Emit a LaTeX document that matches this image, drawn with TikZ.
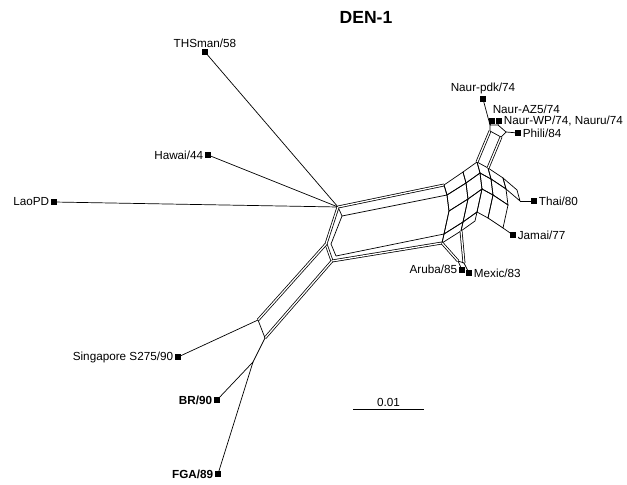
\documentclass[tikz,border=0pt]{standalone}
\usepackage{fontspec}
\setmainfont{Liberation Sans}
\usetikzlibrary{calc}

\begin{document}
\begin{tikzpicture}[x=0.03cm,y=-0.03cm,
    edge/.style={line width=0.6pt},
    band/.style={double, double distance=1.1pt, line width=0.65pt},
    taxon/.style={fill, rectangle, minimum size=4.5pt, inner sep=0pt},
    lab/.style={font=\fontsize{10}{12}\selectfont, inner sep=1.5pt},
    boldlab/.style={lab, font=\bfseries\fontsize{10}{12}\selectfont}]
    \useasboundingbox (0,0) rectangle (627,485);

    \node[font=\bfseries\fontsize{15}{18}\selectfont] (title) at (366,17) {DEN-1};

    % taxa
    \node[taxon, label={[lab]above:THSman/58}] (thsman) at (205,52) {};
    \node[taxon, label={[lab]left:Hawai/44}] (hawai) at (208,155) {};
    \node[taxon, label={[lab]left:LaoPD}] (laopd) at (54,202) {};
    \node[taxon, label={[lab]left:Singapore S275/90}] (singapore) at (178,357) {};
    \node[taxon, label={[boldlab]left:BR/90}] (br) at (217,400) {};
    \node[taxon, label={[boldlab]left:FGA/89}] (fga) at (218,474) {};
    \node[taxon, label={[lab]above:Naur-pdk/74}] (pdk) at (483,99) {};
    \node[taxon, label={[lab, xshift=-3.5pt, yshift=2pt]above right:Naur-AZ5/74}] (naur1) at (492,121) {};
    \node[taxon, label={[lab]right:{Naur-WP/74, Nauru/74}}] (naur2) at (499,121) {};
    \node[taxon, label={[lab]right:Phili/84}] (phili) at (518,133) {};
    \node[taxon, label={[lab]right:Thai/80}] (thai) at (534,201) {};
    \node[taxon, label={[lab]right:Jamai/77}] (jamai) at (513,235) {};
    \node[taxon, label={[lab, yshift=1pt]left:Aruba/85}] (aruba) at (462,270) {};
    \node[taxon, label={[lab]right:Mexic/83}] (mexic) at (469,273) {};

    % left part and main box
    \coordinate (a1) at (338,207);
    \coordinate (a2) at (342,216);
    \coordinate (l1) at (326,244);
    \coordinate (l2) at (331,244);
    \coordinate (d1) at (332,261);
    \coordinate (d2) at (336,256);
    \coordinate (t1) at (258,320);
    \coordinate (t2) at (265,338);
    \coordinate (k) at (253,362);
    \coordinate (b1) at (444,185);
    \coordinate (b2) at (447,195);
    \coordinate (r1) at (449,211);
    \coordinate (c2) at (444,234);
    \coordinate (c1) at (442,243);

    % right cluster
    \coordinate (o2) at (463,172);
    \coordinate (o3) at (477,162);
    \coordinate (o4) at (488,168);
    \coordinate (o5) at (503,178);
    \coordinate (o6) at (517,190);
    \coordinate (u3) at (490,131);
    \coordinate (u6) at (501,137);
    \coordinate (u9) at (490,125);
    \coordinate (u10) at (498,125);
    \coordinate (u11) at (506,132);
    \coordinate (m2) at (466,183);
    \coordinate (m3) at (480,173);
    \coordinate (m4) at (491,179);
    \coordinate (m5) at (506,189);
    \coordinate (m6) at (520,201);
    \coordinate (n1) at (468,199);
    \coordinate (n2) at (482,189);
    \coordinate (n3) at (493,195);
    \coordinate (n4) at (508,205);
    \coordinate (s1) at (463,222);
    \coordinate (s2) at (477,212);
    \coordinate (s3) at (488,218);
    \coordinate (s4) at (503,228);
    \coordinate (w1) at (461,231);
    \coordinate (w2) at (475,221);
    \coordinate (e1) at (458,261);
    \coordinate (e2) at (464,263);

    \draw[edge] (thsman) -- (a1);
    \draw[edge] (hawai) -- (a1);
    \draw[edge] (laopd) -- (a1);
    \draw[band] (a1) -- (b1);
    \draw[edge] (a2) -- (b2);
    \draw[edge] (a1) -- (a2);
    \draw[band] (a1) -- (l1) -- (d1);
    \draw[edge] (a2) -- (l2) -- (d2);
    \draw[band] (d1) -- (c1);
    \draw[edge] (d2) -- (c2);
    \draw[band] (l1) -- (t1);
    \draw[band] (d1) -- (t2);
    \draw[edge] (t1) -- (t2);
    \draw[edge] (t1) -- (singapore);
    \draw[edge] (t2) -- (k);
    \draw[edge] (k) -- (br);
    \draw[edge] (k) -- (fga);

    \draw[edge] (b1) -- (b2) -- (r1) -- (c2) -- (c1);
    \foreach \p/\q/\r/\s in {b1/o2/m2/b2, o2/o3/m3/m2, o3/o4/m4/m3, o4/o5/m5/m4,
        o5/o6/m6/m5, b2/m2/n1/r1, m2/m3/n2/n1, m3/m4/n3/n2, m4/m5/n4/n3,
        r1/n1/s1/c2, n1/n2/s2/s1, n2/n3/s3/s2, n3/n4/s4/s3, c2/s1/w1/c1, s1/s2/w2/w1}
        \draw[edge] (\p) -- (\q) -- (\r) -- (\s) -- cycle;
    \draw[band] (o3) -- (u3);
    \draw[band] (o4) -- (u6);
    \draw[edge] (u3) -- (u9) -- (u10) -- (u11) -- (u6) -- cycle;
    \draw[edge] (pdk) -- (u9);
    \draw[edge] (naur1) -- (u9);
    \draw[edge] (naur2) -- (u10);
    \draw[edge] (phili) -- (u11);
    \draw[edge] (m6) -- (thai);
    \draw[edge] (s4) -- (jamai);
    \draw[band] (c1) -- (e1);
    \draw[band] (w1) -- (e2);
    \draw[edge] (e1) -- (e2);
    \draw[edge] (e1) -- (aruba);
    \draw[edge] (e2) -- (mexic);

    % scale bar
    \coordinate (sb1) at (353,409);
    \coordinate (sb2) at (424,409);
    \draw[edge] (sb1) -- (sb2) node[midway, above, lab] (sblab) {0.01};
\end{tikzpicture}
\end{document}
